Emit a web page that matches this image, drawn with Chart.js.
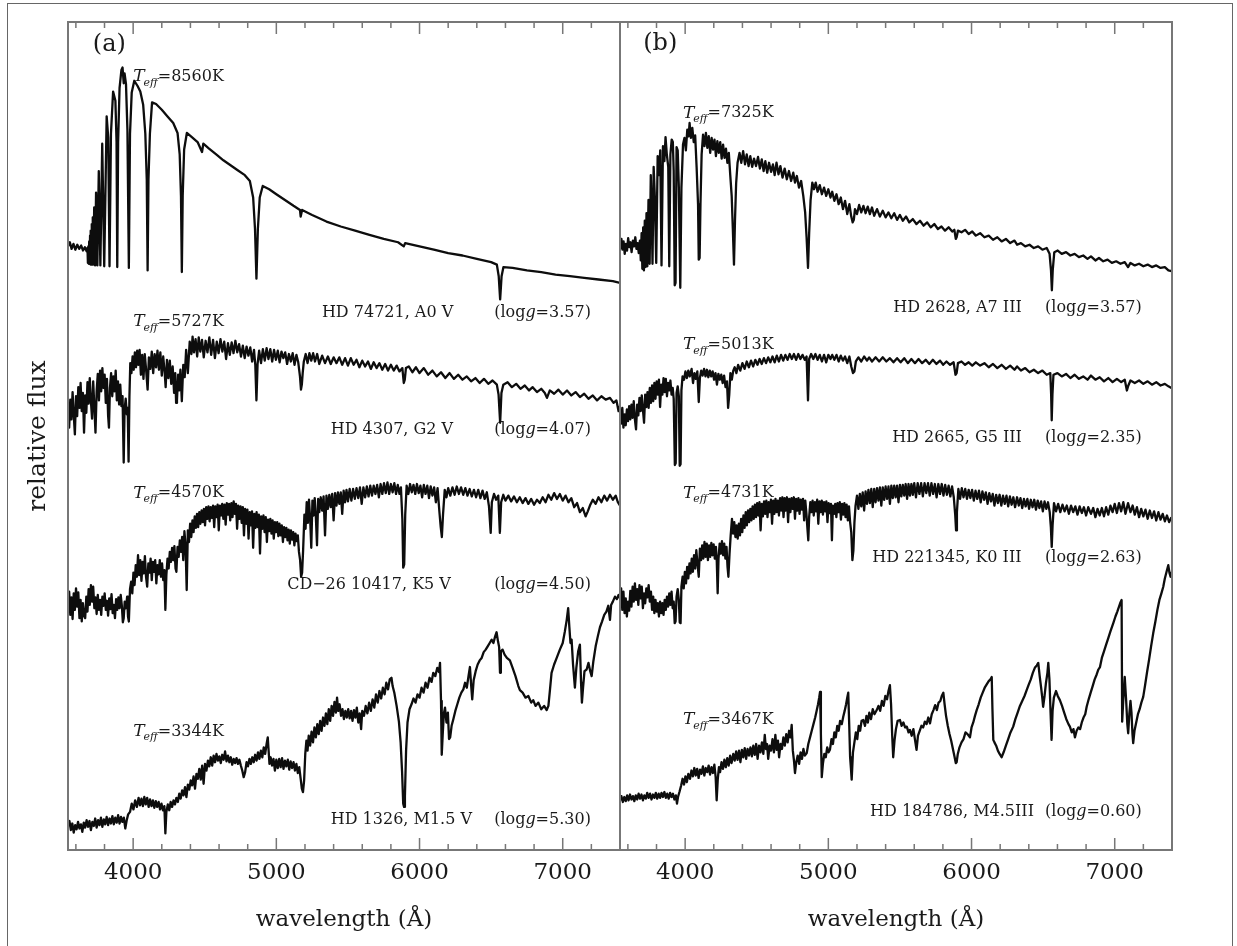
<!DOCTYPE html>
<html>
<head>
<meta charset="utf-8">
<title>Stellar spectra</title>
<script src="https://cdn.jsdelivr.net/npm/chart.js@4.4.1/dist/chart.umd.min.js"></script>
<style>
  html, body { margin: 0; padding: 0; background: #fff; }
  #page { position: relative; width: 1237px; height: 946px; overflow: hidden; }
  #frame { position: absolute; left: 7px; top: 3px; width: 1224px; height: 980px; border: 1.5px solid #666; }
  canvas { position: absolute; top: 0; }
  #panelA { left: 0; }
  #panelB { left: 610px; }
</style>
</head>
<body>
<div id="page">
  <div id="frame"></div>
  <canvas id="panelA" width="630" height="946"></canvas>
  <canvas id="panelB" width="627" height="946"></canvas>
</div>
<script>
// -------------------- Spektra (våglängd Å, relativ flux + förskjutning) --------------------
const hd74721 = [[3545,72.9],[3558,73.4],[3570,72.6],[3583,73.2],[3596,72.5],[3610,73.1],[3623,72.6],[3637,73.0],[3650,72.4],[3663,72.8],[3675,72.3],[3681,72.7],[3684,70.9],[3687,72.9],[3690,70.8],[3693,73.5],[3696,70.8],[3699,74.2],[3702,70.7],[3705,74.8],[3708,70.7],[3711,75.6],[3714,70.7],[3718,76.4],[3722,70.7],[3728,77.6],[3734,70.6],[3741,79.4],[3750,70.6],[3760,82.0],[3771,70.6],[3784,85.3],[3798,70.5],[3815,88.6],[3826,86.0],[3835,70.5],[3845,86.5],[3860,91.6],[3876,90.5],[3884,85.5],[3889,70.4],[3895,85.5],[3905,92.0],[3918,94.2],[3926,94.5],[3934,92.6],[3940,93.8],[3950,92.5],[3960,87.0],[3970,70.3],[3978,86.5],[3990,91.5],[4008,92.9],[4030,92.3],[4050,91.6],[4070,90.0],[4085,86.5],[4095,81.0],[4101,70.0],[4107,81.0],[4117,86.5],[4132,90.3],[4160,90.1],[4200,89.4],[4240,88.6],[4280,87.8],[4310,86.6],[4325,84.0],[4334,79.0],[4340,69.8],[4346,79.0],[4356,84.6],[4375,86.6],[4410,86.1],[4450,85.5],[4481,84.3],[4490,85.3],[4530,84.7],[4580,84.0],[4630,83.3],[4680,82.7],[4730,82.1],[4780,81.5],[4815,80.8],[4838,78.8],[4851,75.0],[4861,69.0],[4871,75.0],[4884,78.8],[4905,80.2],[4950,79.8],[5000,79.2],[5060,78.5],[5120,77.8],[5165,77.3],[5170,76.5],[5180,77.3],[5250,76.7],[5350,75.9],[5450,75.3],[5550,74.8],[5650,74.3],[5750,73.8],[5850,73.4],[5890,72.9],[5900,73.3],[6000,72.9],[6100,72.5],[6200,72.1],[6300,71.8],[6400,71.4],[6500,71.0],[6540,70.7],[6553,69.3],[6563,66.5],[6573,69.3],[6586,70.4],[6650,70.3],[6750,70.0],[6850,69.8],[6950,69.5],[7050,69.3],[7150,69.1],[7250,68.9],[7350,68.7],[7400,68.5]];

const hd4307 = [[3545,53.5],[3553,51.0],[3561,54.4],[3569,52.0],[3577,55.3],[3585,52.6],[3593,50.2],[3601,54.8],[3609,52.4],[3617,55.9],[3625,53.4],[3633,56.4],[3641,53.0],[3649,55.2],[3657,50.4],[3665,54.9],[3673,52.8],[3681,56.5],[3689,53.9],[3697,57.0],[3705,54.2],[3713,52.1],[3721,56.6],[3729,53.5],[3737,50.4],[3745,55.4],[3753,57.5],[3761,54.3],[3769,57.9],[3777,55.4],[3785,58.2],[3793,55.8],[3801,57.4],[3809,54.0],[3817,56.9],[3825,52.5],[3831,51.0],[3838,55.8],[3846,57.6],[3854,54.8],[3862,57.2],[3870,55.4],[3878,57.9],[3886,54.3],[3894,56.6],[3902,53.8],[3910,56.2],[3918,53.6],[3926,54.8],[3934,46.8],[3940,53.2],[3948,54.5],[3956,52.6],[3962,53.4],[3968,46.9],[3974,54.8],[3980,58.8],[3988,57.6],[3996,59.6],[4004,58.0],[4012,60.1],[4020,58.3],[4028,60.3],[4036,58.6],[4045,60.4],[4054,57.4],[4063,59.8],[4072,56.9],[4081,59.9],[4090,58.1],[4101,55.6],[4110,59.5],[4120,58.1],[4130,60.2],[4140,57.6],[4150,59.9],[4160,58.3],[4170,60.3],[4180,58.0],[4190,60.1],[4200,57.3],[4210,59.6],[4220,57.7],[4227,55.9],[4236,59.2],[4246,57.0],[4256,59.1],[4266,56.3],[4276,58.4],[4286,55.2],[4294,57.6],[4300,54.0],[4306,54.3],[4314,57.4],[4322,55.5],[4330,58.0],[4340,54.2],[4350,58.6],[4360,57.1],[4370,60.4],[4382,57.6],[4395,61.4],[4407,59.9],[4415,62.0],[4425,60.1],[4436,61.7],[4447,59.6],[4458,61.9],[4469,60.2],[4481,61.6],[4493,59.5],[4506,61.5],[4519,60.1],[4532,61.9],[4545,59.8],[4558,61.6],[4571,59.4],[4584,61.4],[4597,60.0],[4610,61.7],[4623,60.2],[4636,61.4],[4649,59.3],[4662,61.2],[4675,59.8],[4688,61.3],[4701,60.0],[4714,61.5],[4727,60.1],[4740,61.1],[4753,59.6],[4766,60.9],[4779,59.4],[4792,60.8],[4805,59.7],[4818,60.7],[4831,59.0],[4844,60.4],[4853,58.6],[4861,54.3],[4869,58.7],[4880,60.3],[4893,58.8],[4906,60.5],[4919,59.1],[4932,60.6],[4945,59.3],[4958,60.5],[4971,59.0],[4984,60.4],[4997,59.2],[5010,60.3],[5023,58.9],[5036,60.2],[5049,59.4],[5062,60.1],[5075,58.7],[5088,59.9],[5101,59.0],[5114,60.0],[5127,58.6],[5140,59.8],[5153,58.9],[5165,57.2],[5172,55.6],[5178,56.2],[5184,57.6],[5192,59.0],[5205,59.9],[5218,58.8],[5231,60.0],[5244,59.1],[5257,60.0],[5270,59.0],[5285,59.9],[5300,58.7],[5320,59.7],[5340,58.8],[5360,59.6],[5380,58.7],[5400,59.5],[5420,58.8],[5440,59.5],[5460,58.6],[5480,59.4],[5500,58.5],[5520,59.4],[5540,58.6],[5560,59.2],[5580,58.3],[5600,59.1],[5620,58.4],[5640,59.0],[5660,58.1],[5680,58.9],[5700,58.2],[5720,58.8],[5740,58.0],[5760,58.7],[5780,57.9],[5800,58.6],[5820,57.9],[5840,58.5],[5860,57.8],[5880,58.2],[5890,56.4],[5897,56.8],[5905,58.2],[5925,58.4],[5950,57.7],[5975,58.3],[6000,57.6],[6030,58.2],[6060,57.4],[6090,57.9],[6120,57.2],[6150,57.7],[6180,57.0],[6210,57.6],[6240,56.9],[6270,57.4],[6300,56.8],[6330,57.2],[6360,56.6],[6390,57.0],[6420,56.4],[6450,56.9],[6480,56.3],[6510,56.7],[6540,56.2],[6552,55.0],[6563,51.6],[6572,55.2],[6585,56.2],[6615,56.5],[6645,55.9],[6675,56.3],[6705,55.7],[6735,56.1],[6765,55.5],[6790,55.9],[6820,55.3],[6850,55.7],[6875,55.2],[6890,54.6],[6910,55.5],[6940,55.1],[6970,55.6],[7000,55.0],[7030,55.5],[7060,54.9],[7090,55.3],[7120,54.7],[7150,55.1],[7180,54.5],[7210,54.9],[7240,54.3],[7270,54.8],[7300,54.4],[7330,54.6],[7355,54.0],[7375,54.3],[7390,53.0],[7400,53.6]];

const cd26_10417 = [[3545,29.6],[3553,31.2],[3561,28.4],[3569,30.5],[3577,27.9],[3585,31.0],[3593,29.0],[3601,31.6],[3609,29.4],[3617,31.1],[3625,28.0],[3633,30.2],[3641,27.6],[3649,29.8],[3657,28.3],[3665,28.0],[3673,30.6],[3681,28.8],[3689,31.5],[3697,29.6],[3705,32.0],[3713,30.0],[3721,31.8],[3729,29.2],[3737,30.5],[3745,28.5],[3753,30.8],[3761,29.0],[3769,30.2],[3777,28.4],[3785,30.6],[3793,29.5],[3801,31.0],[3809,29.0],[3817,30.1],[3825,28.3],[3833,30.4],[3841,29.1],[3849,30.9],[3857,28.6],[3865,29.6],[3873,28.0],[3881,30.3],[3889,29.0],[3897,30.5],[3905,29.2],[3913,30.8],[3921,29.5],[3928,27.5],[3934,28.0],[3941,30.0],[3950,29.2],[3958,30.6],[3964,28.2],[3970,27.6],[3978,31.5],[3986,32.4],[3994,31.0],[4002,33.5],[4010,32.0],[4018,34.4],[4026,33.0],[4034,35.6],[4042,33.2],[4050,35.0],[4058,32.5],[4066,34.8],[4074,33.4],[4082,35.5],[4090,33.0],[4098,31.8],[4106,34.6],[4114,33.5],[4122,35.2],[4130,32.6],[4138,34.8],[4146,33.6],[4154,35.0],[4162,32.2],[4170,34.4],[4178,33.3],[4186,35.0],[4194,33.0],[4202,34.6],[4210,32.6],[4218,33.8],[4225,29.0],[4232,33.2],[4240,35.2],[4248,34.0],[4256,36.0],[4264,34.8],[4272,36.5],[4280,35.0],[4288,36.7],[4296,34.0],[4302,33.6],[4310,36.6],[4318,35.4],[4326,37.4],[4334,36.0],[4342,37.8],[4350,35.0],[4358,38.5],[4366,36.8],[4374,31.4],[4382,38.6],[4390,37.2],[4398,39.4],[4406,37.8],[4414,39.8],[4422,38.4],[4430,40.3],[4438,38.9],[4446,40.6],[4454,39.0],[4462,40.8],[4470,39.4],[4478,41.0],[4486,39.6],[4494,41.2],[4502,39.2],[4510,41.4],[4518,40.0],[4526,41.5],[4534,39.7],[4542,41.4],[4550,40.1],[4558,41.6],[4566,39.0],[4574,41.5],[4582,40.2],[4590,41.7],[4598,38.6],[4606,41.6],[4614,40.4],[4622,41.8],[4630,40.0],[4638,41.7],[4646,39.3],[4654,41.9],[4662,40.5],[4670,41.8],[4678,39.8],[4686,41.9],[4694,40.2],[4702,42.1],[4710,40.6],[4718,41.8],[4726,38.8],[4734,41.6],[4742,40.0],[4750,41.5],[4758,39.5],[4766,41.4],[4774,38.0],[4782,41.2],[4790,39.4],[4798,41.1],[4806,37.6],[4814,40.8],[4822,39.2],[4830,40.9],[4838,36.5],[4846,40.6],[4854,38.9],[4862,40.8],[4870,39.0],[4878,40.5],[4886,35.8],[4894,40.3],[4902,38.8],[4910,40.4],[4918,38.4],[4926,40.2],[4934,37.2],[4942,39.9],[4950,38.5],[4958,40.0],[4966,38.2],[4974,39.8],[4982,37.6],[4990,39.6],[4998,38.4],[5006,39.6],[5014,37.9],[5022,39.4],[5030,38.0],[5038,39.2],[5046,37.2],[5054,39.0],[5062,37.8],[5070,38.9],[5078,37.4],[5086,38.7],[5094,37.0],[5102,38.6],[5110,37.5],[5118,38.4],[5126,36.8],[5134,38.2],[5142,37.3],[5150,38.0],[5158,36.0],[5166,35.0],[5173,33.0],[5180,33.5],[5187,36.2],[5196,40.5],[5204,38.8],[5212,42.0],[5220,39.5],[5228,42.3],[5236,40.0],[5244,36.5],[5252,42.2],[5260,40.4],[5268,42.5],[5276,40.2],[5284,36.8],[5292,42.4],[5300,40.8],[5310,42.6],[5320,41.0],[5330,42.7],[5340,38.0],[5350,42.8],[5360,41.2],[5370,42.9],[5380,41.4],[5390,43.0],[5400,39.8],[5410,43.1],[5420,41.6],[5430,43.2],[5440,41.8],[5450,43.2],[5460,40.6],[5470,43.4],[5480,42.0],[5490,43.5],[5500,42.1],[5512,43.6],[5524,42.2],[5536,43.6],[5548,42.4],[5560,43.7],[5572,42.5],[5584,43.8],[5596,41.8],[5608,43.8],[5620,42.6],[5632,43.9],[5644,42.7],[5656,44.0],[5668,42.8],[5680,44.0],[5692,43.0],[5704,44.1],[5716,42.6],[5728,44.2],[5740,43.0],[5752,44.3],[5764,43.1],[5776,44.4],[5788,43.0],[5800,44.2],[5812,43.2],[5824,44.3],[5836,43.0],[5848,44.1],[5860,43.0],[5870,43.8],[5880,40.0],[5886,34.1],[5893,34.5],[5900,40.5],[5910,44.0],[5922,43.0],[5934,44.2],[5946,43.2],[5958,44.1],[5970,43.0],[5982,44.2],[5994,43.1],[6006,44.0],[6018,42.6],[6030,44.1],[6042,43.0],[6054,44.0],[6066,42.5],[6078,43.9],[6090,42.8],[6102,43.8],[6114,42.0],[6126,43.7],[6138,41.0],[6148,39.0],[6156,37.8],[6164,40.5],[6176,43.5],[6188,42.6],[6200,43.7],[6215,42.8],[6230,43.8],[6245,42.9],[6260,43.9],[6275,43.0],[6290,43.8],[6305,42.9],[6320,43.7],[6335,42.8],[6350,43.6],[6365,42.7],[6380,43.5],[6395,42.6],[6410,43.5],[6425,42.5],[6440,43.4],[6455,42.4],[6470,43.2],[6485,41.5],[6497,38.3],[6505,42.0],[6520,43.0],[6535,42.3],[6550,42.8],[6561,38.3],[6570,42.0],[6585,42.9],[6600,42.2],[6620,42.8],[6640,42.1],[6660,42.7],[6680,42.0],[6700,42.6],[6720,41.9],[6740,42.5],[6760,41.8],[6780,42.4],[6800,41.7],[6820,42.3],[6840,41.9],[6860,42.6],[6880,42.0],[6900,42.9],[6920,42.3],[6940,43.1],[6960,42.4],[6980,43.0],[7000,42.2],[7020,42.8],[7040,42.0],[7060,42.5],[7080,41.4],[7100,41.9],[7120,40.8],[7140,41.3],[7160,40.3],[7175,40.9],[7190,41.6],[7210,42.3],[7230,41.8],[7250,42.6],[7270,42.0],[7290,42.8],[7310,42.2],[7330,42.9],[7350,42.3],[7370,42.8],[7385,42.0],[7400,41.6]];

const hd1326 = [[3545,2.9],[3555,3.5],[3565,2.4],[3575,3.2],[3585,2.1],[3595,3.0],[3605,2.5],[3615,3.4],[3625,2.6],[3635,3.1],[3645,2.2],[3655,3.3],[3665,2.7],[3675,3.6],[3685,2.8],[3695,3.5],[3705,2.4],[3715,3.4],[3725,2.9],[3735,3.8],[3745,2.7],[3755,3.6],[3765,3.0],[3775,3.9],[3785,2.8],[3795,3.7],[3805,3.1],[3815,4.0],[3825,3.0],[3835,3.8],[3845,3.2],[3855,4.1],[3865,3.1],[3875,3.9],[3885,3.3],[3895,4.2],[3905,3.2],[3915,4.0],[3925,3.4],[3935,3.9],[3945,2.6],[3955,3.6],[3965,4.3],[3978,4.6],[3990,5.6],[4002,4.9],[4014,6.0],[4026,5.2],[4038,6.3],[4048,5.4],[4058,6.2],[4068,5.3],[4078,6.4],[4088,5.5],[4098,6.3],[4108,5.2],[4118,6.1],[4128,5.3],[4138,6.0],[4148,5.1],[4158,5.9],[4168,5.2],[4178,5.8],[4188,4.9],[4198,5.6],[4208,4.8],[4218,5.3],[4225,2.0],[4232,4.6],[4242,5.5],[4252,4.8],[4262,5.8],[4272,5.2],[4282,6.0],[4292,5.5],[4302,6.3],[4312,5.8],[4322,6.8],[4332,6.2],[4342,7.2],[4352,6.6],[4362,7.6],[4372,6.4],[4382,7.9],[4392,7.3],[4402,8.4],[4412,7.8],[4422,8.9],[4432,7.4],[4442,9.2],[4452,8.6],[4462,9.8],[4472,8.5],[4482,10.2],[4492,8.0],[4502,10.4],[4512,9.6],[4522,10.8],[4532,10.1],[4542,11.2],[4552,10.2],[4562,11.4],[4572,10.6],[4582,11.6],[4592,10.8],[4602,11.3],[4612,10.5],[4622,11.5],[4632,10.9],[4642,11.9],[4652,10.7],[4662,11.4],[4672,10.6],[4682,11.2],[4692,10.3],[4702,11.0],[4712,10.5],[4722,11.1],[4732,10.4],[4742,10.9],[4752,10.2],[4762,9.6],[4772,8.8],[4782,9.4],[4792,10.6],[4802,10.1],[4812,11.0],[4822,10.4],[4832,11.2],[4842,10.6],[4852,11.5],[4862,10.8],[4872,11.8],[4882,11.0],[4892,12.0],[4902,11.2],[4912,12.4],[4922,11.6],[4932,12.8],[4940,13.6],[4946,12.0],[4952,10.4],[4960,11.2],[4970,10.2],[4980,11.0],[4990,9.6],[5000,10.9],[5010,9.9],[5020,11.0],[5030,10.0],[5040,11.1],[5050,9.8],[5060,10.8],[5070,10.1],[5080,10.9],[5090,9.7],[5100,10.7],[5110,9.9],[5120,10.6],[5130,9.6],[5140,10.4],[5150,9.3],[5160,10.0],[5170,8.6],[5178,7.4],[5186,7.0],[5194,8.4],[5202,11.6],[5210,13.2],[5218,12.0],[5226,13.8],[5236,12.6],[5246,14.3],[5256,13.0],[5266,14.8],[5276,13.6],[5286,15.2],[5296,14.0],[5306,15.6],[5316,14.4],[5326,16.0],[5336,15.0],[5346,16.5],[5356,15.2],[5366,17.0],[5376,15.6],[5386,17.4],[5396,16.2],[5406,17.9],[5416,16.6],[5424,18.4],[5432,16.8],[5442,17.6],[5452,16.2],[5462,17.0],[5472,15.8],[5482,16.8],[5492,16.0],[5502,17.0],[5512,15.9],[5522,16.8],[5532,15.6],[5542,16.9],[5552,16.0],[5562,17.2],[5572,15.4],[5582,16.5],[5592,14.6],[5600,16.8],[5612,16.2],[5624,17.4],[5636,16.5],[5648,17.8],[5660,16.8],[5672,18.2],[5684,17.2],[5696,18.8],[5708,17.8],[5720,19.2],[5732,18.3],[5744,19.6],[5756,18.8],[5768,20.2],[5780,19.4],[5792,20.6],[5804,20.8],[5812,19.8],[5824,19.0],[5840,17.4],[5856,15.5],[5868,13.0],[5878,9.5],[5886,5.6],[5892,5.2],[5898,6.5],[5906,12.0],[5916,15.4],[5930,17.0],[5944,17.6],[5958,18.3],[5972,17.8],[5986,18.8],[6000,18.4],[6014,19.6],[6028,19.0],[6042,20.2],[6056,19.6],[6070,20.8],[6084,20.3],[6096,21.4],[6110,21.0],[6124,22.0],[6136,21.5],[6143,22.6],[6150,18.0],[6155,11.5],[6162,14.0],[6170,16.5],[6178,17.2],[6188,15.4],[6198,16.6],[6206,13.4],[6214,13.6],[6224,15.0],[6236,15.8],[6250,16.8],[6264,17.6],[6278,18.4],[6292,19.0],[6306,19.4],[6318,20.2],[6330,19.6],[6342,21.0],[6352,22.1],[6360,20.0],[6368,18.2],[6378,20.5],[6392,21.6],[6406,22.4],[6420,22.9],[6434,23.2],[6448,23.9],[6462,24.2],[6476,24.6],[6490,25.0],[6504,25.4],[6516,25.0],[6528,25.8],[6538,26.3],[6548,25.2],[6556,24.5],[6562,21.4],[6568,24.0],[6580,24.2],[6594,23.6],[6610,23.2],[6631,22.9],[6650,22.0],[6670,21.0],[6690,19.8],[6701,19.3],[6720,19.0],[6740,18.4],[6760,18.6],[6780,17.8],[6794,18.1],[6810,17.4],[6830,17.8],[6850,17.0],[6870,17.4],[6888,16.9],[6900,17.4],[6910,19.2],[6922,21.4],[6940,22.4],[6960,23.3],[6980,24.2],[7000,25.0],[7015,26.4],[7028,27.8],[7038,29.2],[7046,27.0],[7054,25.0],[7062,25.4],[7072,22.4],[7085,19.6],[7095,22.0],[7108,24.0],[7120,24.8],[7128,20.2],[7134,17.8],[7142,19.6],[7152,21.6],[7167,21.8],[7180,22.6],[7192,21.6],[7202,21.0],[7214,22.8],[7230,24.6],[7245,25.8],[7260,26.9],[7275,27.6],[7290,28.4],[7305,28.8],[7318,29.5],[7330,27.8],[7338,29.6],[7350,30.0],[7365,30.6],[7378,30.3],[7390,30.8],[7400,30.4]];

const hd2628 = [[3545,72.6],[3555,73.8],[3562,72.5],[3570,73.5],[3578,72.0],[3586,73.2],[3594,72.4],[3602,73.9],[3610,72.8],[3618,73.4],[3626,72.2],[3635,73.6],[3643,72.9],[3652,74.0],[3660,72.6],[3668,73.3],[3676,72.1],[3684,73.6],[3690,71.2],[3696,74.5],[3701,70.2],[3707,75.2],[3712,70.0],[3718,76.0],[3724,70.4],[3730,76.9],[3736,70.5],[3744,78.5],[3752,70.8],[3760,81.5],[3766,77.0],[3772,70.8],[3780,82.5],[3788,79.0],[3798,70.9],[3808,83.8],[3818,81.5],[3826,84.5],[3835,70.6],[3845,85.0],[3855,83.2],[3863,86.1],[3872,84.0],[3882,82.5],[3889,70.5],[3897,84.0],[3906,85.8],[3914,85.5],[3920,82.0],[3927,68.2],[3933,68.5],[3940,84.9],[3948,84.5],[3956,80.0],[3966,67.9],[3974,80.0],[3985,85.2],[3995,86.0],[4005,84.5],[4015,87.0],[4024,86.2],[4031,87.8],[4040,86.0],[4050,87.2],[4060,85.5],[4070,86.3],[4080,82.5],[4090,78.0],[4095,71.3],[4101,71.5],[4107,78.0],[4115,84.0],[4125,86.4],[4135,85.0],[4145,86.6],[4155,84.8],[4165,86.2],[4175,84.2],[4185,86.0],[4195,84.6],[4205,85.8],[4215,83.8],[4225,85.6],[4235,84.2],[4245,85.5],[4255,83.5],[4265,85.2],[4275,83.6],[4285,84.7],[4295,83.0],[4305,84.2],[4315,81.5],[4325,79.0],[4333,75.0],[4341,70.7],[4348,76.0],[4356,80.5],[4366,83.0],[4380,84.2],[4392,83.0],[4405,84.4],[4418,82.8],[4430,84.0],[4443,82.6],[4455,83.8],[4468,82.5],[4481,83.5],[4495,82.6],[4509,83.7],[4522,82.3],[4535,83.4],[4548,82.0],[4560,83.2],[4573,81.8],[4586,83.0],[4600,81.9],[4613,82.8],[4625,81.5],[4638,83.0],[4652,81.6],[4665,82.6],[4680,81.2],[4695,82.3],[4710,81.0],[4725,82.0],[4740,80.8],[4755,81.8],[4767,80.6],[4780,81.4],[4795,80.0],[4810,80.8],[4825,79.0],[4838,77.0],[4848,74.0],[4858,70.3],[4866,74.5],[4876,78.5],[4888,80.6],[4900,79.8],[4912,80.6],[4925,79.5],[4940,80.3],[4955,79.2],[4970,80.0],[4985,79.0],[5000,79.8],[5015,78.8],[5027,79.5],[5042,78.4],[5057,79.2],[5072,78.0],[5087,78.8],[5102,77.4],[5117,78.4],[5132,76.8],[5147,78.0],[5160,76.5],[5170,75.8],[5178,76.1],[5186,77.4],[5200,76.8],[5215,77.9],[5230,77.0],[5245,77.8],[5260,76.9],[5275,77.7],[5290,76.8],[5305,77.6],[5320,76.6],[5340,77.4],[5360,76.5],[5380,77.2],[5400,76.4],[5420,77.0],[5440,76.3],[5460,76.9],[5480,76.1],[5500,76.7],[5520,76.0],[5543,76.5],[5565,75.8],[5590,76.2],[5615,75.6],[5640,76.0],[5665,75.4],[5690,75.8],[5715,75.2],[5740,75.6],[5765,75.0],[5790,75.3],[5815,74.8],[5840,75.2],[5865,74.7],[5880,74.9],[5890,73.8],[5896,74.0],[5905,74.8],[5930,74.6],[5955,74.9],[5980,74.4],[6005,74.7],[6030,74.2],[6060,74.5],[6090,74.0],[6120,74.2],[6150,73.7],[6180,74.0],[6210,73.5],[6240,73.8],[6270,73.3],[6300,73.6],[6318,73.1],[6345,73.3],[6375,72.9],[6405,73.1],[6435,72.7],[6465,72.9],[6495,72.5],[6525,72.7],[6545,72.0],[6555,70.0],[6561,67.6],[6567,70.0],[6578,72.2],[6602,72.4],[6630,72.0],[6660,72.2],[6690,71.8],[6720,72.0],[6750,71.6],[6780,71.8],[6810,71.4],[6834,71.7],[6865,71.2],[6890,71.5],[6920,71.1],[6950,71.3],[6980,70.9],[7010,71.1],[7040,70.8],[7070,71.0],[7093,70.4],[7110,70.9],[7140,70.6],[7170,70.8],[7200,70.5],[7230,70.7],[7260,70.4],[7290,70.6],[7320,70.3],[7350,70.4],[7375,70.0],[7396,69.9]];

const hd2665 = [[3545,53.0],[3553,51.5],[3561,53.4],[3569,51.0],[3577,52.6],[3585,51.3],[3593,53.2],[3601,51.8],[3609,53.6],[3617,52.0],[3625,53.8],[3633,52.2],[3641,54.2],[3649,52.0],[3657,50.8],[3665,53.8],[3673,52.5],[3681,54.6],[3689,53.0],[3697,54.9],[3705,53.2],[3713,51.6],[3721,55.0],[3729,53.5],[3737,55.3],[3745,53.4],[3753,55.8],[3761,54.0],[3769,56.1],[3777,54.2],[3785,56.4],[3793,54.5],[3801,56.6],[3809,55.0],[3817,56.8],[3825,53.5],[3833,56.2],[3841,55.0],[3849,57.0],[3857,55.3],[3865,56.9],[3873,54.8],[3881,56.4],[3889,55.5],[3897,56.7],[3905,55.0],[3913,55.8],[3920,54.5],[3928,46.5],[3934,46.7],[3940,55.2],[3948,56.0],[3956,54.8],[3962,46.4],[3968,46.6],[3974,55.5],[3982,57.2],[3992,56.8],[4002,57.8],[4012,57.0],[4022,57.9],[4032,57.2],[4045,58.1],[4055,56.4],[4065,57.6],[4075,56.9],[4085,57.8],[4095,54.1],[4103,57.0],[4112,57.9],[4122,57.3],[4132,58.1],[4142,57.2],[4152,58.0],[4162,57.1],[4172,57.9],[4182,57.2],[4192,57.8],[4202,56.8],[4212,57.6],[4222,56.2],[4232,57.5],[4242,56.8],[4252,57.4],[4262,56.4],[4272,57.3],[4282,55.9],[4292,56.6],[4300,53.4],[4308,55.0],[4316,57.6],[4326,56.8],[4336,57.9],[4346,58.3],[4358,57.6],[4370,58.6],[4385,57.9],[4400,58.8],[4415,58.1],[4430,59.0],[4445,58.3],[4460,59.1],[4475,58.4],[4490,59.2],[4505,58.6],[4520,59.3],[4535,58.7],[4550,59.4],[4565,58.8],[4580,59.5],[4595,58.9],[4610,59.6],[4625,58.9],[4640,59.7],[4655,59.0],[4670,59.8],[4685,59.1],[4700,59.8],[4715,59.2],[4730,59.9],[4745,59.3],[4760,59.9],[4775,59.2],[4790,59.9],[4805,59.3],[4820,59.8],[4835,59.2],[4848,59.6],[4858,54.3],[4866,59.3],[4880,59.9],[4895,59.3],[4910,59.9],[4925,59.2],[4940,59.8],[4955,59.0],[4970,59.8],[4985,58.9],[5000,59.8],[5015,59.3],[5027,59.8],[5042,59.2],[5057,59.8],[5072,59.0],[5087,59.7],[5102,59.1],[5117,59.6],[5132,58.8],[5147,59.6],[5160,58.4],[5172,57.6],[5182,57.8],[5192,59.0],[5210,59.5],[5230,59.0],[5250,59.6],[5270,59.1],[5285,59.5],[5305,59.0],[5330,59.5],[5355,59.0],[5380,59.5],[5405,59.0],[5430,59.4],[5455,58.9],[5480,59.4],[5505,58.9],[5530,59.4],[5555,58.8],[5580,59.3],[5605,58.8],[5630,59.3],[5655,58.8],[5680,59.2],[5705,58.7],[5730,59.2],[5755,58.7],[5780,59.1],[5802,58.6],[5825,59.0],[5850,58.6],[5875,58.9],[5888,57.4],[5896,57.6],[5905,58.8],[5930,59.0],[5955,58.6],[5980,58.9],[6005,58.5],[6030,58.9],[6060,58.5],[6090,58.8],[6120,58.3],[6150,58.7],[6180,58.2],[6210,58.6],[6240,58.1],[6270,58.5],[6300,58.0],[6318,58.4],[6345,57.9],[6375,58.2],[6405,57.7],[6435,58.0],[6465,57.6],[6495,57.9],[6525,57.4],[6550,57.6],[6556,55.0],[6560,51.9],[6565,55.0],[6572,57.4],[6600,57.6],[6630,57.2],[6660,57.5],[6690,57.0],[6720,57.4],[6750,56.9],[6780,57.2],[6810,56.8],[6834,57.3],[6865,56.8],[6895,57.1],[6925,56.6],[6955,57.0],[6985,56.5],[7015,56.9],[7045,56.5],[7070,56.8],[7085,55.5],[7093,56.0],[7110,56.7],[7140,56.4],[7170,56.7],[7200,56.3],[7230,56.6],[7260,56.2],[7290,56.5],[7320,56.1],[7350,56.3],[7375,56.0],[7396,55.8]];

const hd221345 = [[3545,30.0],[3553,31.6],[3561,29.0],[3569,31.2],[3577,28.6],[3585,30.4],[3593,28.2],[3601,30.0],[3609,28.9],[3617,31.3],[3625,29.4],[3633,31.8],[3641,30.0],[3649,32.2],[3657,30.2],[3665,31.5],[3673,29.6],[3681,32.0],[3689,30.4],[3697,31.8],[3705,29.2],[3713,31.0],[3721,29.8],[3729,31.6],[3737,30.5],[3745,32.0],[3753,30.0],[3761,31.2],[3769,29.0],[3777,30.6],[3785,28.6],[3793,30.2],[3801,28.8],[3809,29.8],[3817,28.2],[3825,30.0],[3833,28.6],[3841,29.8],[3849,28.4],[3857,30.2],[3865,29.0],[3873,30.6],[3881,29.4],[3889,31.0],[3897,29.6],[3905,31.2],[3913,29.2],[3920,30.0],[3927,27.4],[3933,27.6],[3940,30.6],[3948,31.5],[3956,30.2],[3962,27.5],[3968,27.4],[3974,31.8],[3982,33.0],[3990,31.6],[3998,33.6],[4006,32.2],[4014,34.2],[4022,32.8],[4030,34.6],[4038,33.4],[4046,35.2],[4054,33.6],[4062,35.6],[4070,34.0],[4078,36.2],[4086,34.6],[4095,33.0],[4103,36.4],[4111,35.0],[4119,36.8],[4127,35.2],[4135,37.2],[4143,35.4],[4151,37.0],[4159,35.0],[4167,36.8],[4175,35.4],[4183,37.1],[4191,35.6],[4199,36.9],[4207,35.2],[4215,36.6],[4221,34.8],[4227,31.0],[4233,35.2],[4241,37.0],[4249,35.8],[4257,37.3],[4265,35.6],[4273,37.0],[4281,35.2],[4289,36.6],[4296,34.2],[4302,33.0],[4310,35.8],[4318,38.0],[4327,40.0],[4335,38.2],[4343,39.6],[4351,37.8],[4359,39.2],[4367,37.6],[4375,39.4],[4383,38.0],[4391,40.0],[4399,38.4],[4407,40.4],[4415,38.9],[4423,40.8],[4431,39.2],[4439,41.0],[4447,39.6],[4455,41.2],[4463,39.8],[4471,41.5],[4479,40.0],[4487,41.7],[4495,40.2],[4503,41.9],[4511,40.4],[4519,42.0],[4527,38.6],[4535,41.8],[4543,40.3],[4551,42.1],[4559,40.6],[4567,42.2],[4575,40.2],[4583,42.0],[4591,40.8],[4599,42.3],[4607,39.4],[4615,42.2],[4623,40.6],[4631,42.4],[4639,40.8],[4647,42.2],[4655,40.4],[4663,42.5],[4671,41.0],[4679,42.6],[4687,40.2],[4695,42.5],[4703,41.0],[4711,42.6],[4719,39.6],[4727,42.4],[4735,40.8],[4743,42.5],[4751,41.2],[4759,42.6],[4767,40.0],[4775,42.4],[4783,41.0],[4791,42.5],[4799,40.6],[4807,42.3],[4815,41.1],[4823,42.4],[4831,39.8],[4839,42.2],[4847,40.6],[4854,38.8],[4860,37.4],[4866,40.2],[4874,42.0],[4882,40.8],[4890,42.2],[4898,40.4],[4906,42.0],[4914,40.9],[4922,42.3],[4930,39.4],[4938,42.1],[4946,40.8],[4954,42.2],[4962,40.5],[4970,42.0],[4978,40.9],[4986,42.1],[4994,39.6],[5002,41.9],[5010,40.7],[5018,41.8],[5025,37.4],[5032,41.6],[5040,40.6],[5048,41.8],[5056,40.2],[5064,41.9],[5072,40.8],[5080,42.0],[5088,39.9],[5096,41.8],[5104,40.5],[5112,41.9],[5120,40.2],[5128,41.7],[5136,39.8],[5144,41.5],[5152,39.6],[5160,38.4],[5168,35.0],[5175,36.2],[5182,39.5],[5190,41.6],[5200,42.8],[5210,41.2],[5220,43.0],[5230,41.5],[5240,43.2],[5250,41.0],[5260,43.3],[5270,41.8],[5280,43.5],[5290,41.9],[5300,43.6],[5310,41.4],[5320,43.6],[5330,42.0],[5340,43.7],[5350,42.2],[5360,43.8],[5370,41.6],[5380,43.8],[5390,42.3],[5400,43.9],[5410,42.4],[5420,43.9],[5430,41.8],[5440,44.0],[5450,42.5],[5460,44.0],[5470,42.6],[5480,44.0],[5490,42.0],[5500,44.1],[5510,42.7],[5520,44.1],[5530,42.8],[5540,44.2],[5550,42.4],[5560,44.2],[5570,42.8],[5580,44.2],[5590,42.9],[5600,44.3],[5612,42.6],[5624,44.3],[5636,43.0],[5648,44.3],[5660,42.7],[5672,44.3],[5684,43.1],[5696,44.3],[5708,42.8],[5720,44.3],[5732,43.0],[5744,44.2],[5756,42.6],[5768,44.2],[5780,43.0],[5792,44.2],[5804,42.8],[5816,44.1],[5828,42.9],[5840,44.0],[5852,42.7],[5864,43.9],[5876,42.6],[5886,40.5],[5892,38.6],[5898,40.8],[5908,43.6],[5920,42.4],[5932,43.7],[5944,42.6],[5956,43.6],[5968,42.4],[5980,43.5],[5992,42.5],[6004,43.5],[6016,42.2],[6028,43.4],[6040,42.4],[6052,43.4],[6064,42.0],[6076,43.3],[6088,42.3],[6100,43.2],[6112,41.8],[6124,43.1],[6136,42.1],[6148,43.0],[6160,41.6],[6172,42.9],[6184,41.9],[6196,42.9],[6208,41.6],[6220,42.8],[6232,41.8],[6244,42.8],[6256,41.5],[6268,42.7],[6280,41.7],[6292,42.6],[6304,41.4],[6318,42.6],[6330,41.6],[6342,42.5],[6354,41.3],[6366,42.4],[6378,41.5],[6390,42.4],[6402,41.2],[6414,42.3],[6426,41.4],[6438,42.3],[6450,41.1],[6462,42.2],[6474,41.3],[6486,42.1],[6498,40.9],[6510,42.1],[6522,41.2],[6534,42.0],[6546,40.8],[6554,39.0],[6560,36.6],[6566,39.2],[6576,41.9],[6590,40.9],[6605,41.8],[6620,40.8],[6635,41.7],[6650,40.9],[6665,41.6],[6680,40.6],[6695,41.6],[6710,40.8],[6725,41.5],[6740,40.5],[6755,41.5],[6770,40.7],[6785,41.4],[6800,40.4],[6815,41.4],[6834,40.6],[6850,41.3],[6865,40.2],[6880,41.2],[6895,40.4],[6910,41.3],[6925,40.3],[6940,41.4],[6955,40.5],[6970,41.6],[6985,40.8],[7000,41.8],[7015,40.7],[7030,41.9],[7045,40.9],[7060,42.0],[7075,40.6],[7093,41.9],[7110,40.8],[7125,41.6],[7140,40.5],[7155,41.4],[7170,40.2],[7185,41.2],[7200,40.3],[7215,41.1],[7230,40.0],[7245,41.0],[7260,40.1],[7275,40.9],[7290,39.8],[7305,40.8],[7320,39.9],[7335,40.6],[7350,39.7],[7365,40.4],[7380,39.6],[7396,40.2]];

const hd184786 = [[3545,6.0],[3555,6.5],[3565,5.8],[3575,6.4],[3585,5.9],[3595,6.6],[3605,6.0],[3615,6.7],[3625,6.1],[3635,6.5],[3645,5.9],[3655,6.6],[3665,6.1],[3675,6.8],[3685,6.2],[3695,6.7],[3705,6.0],[3715,6.6],[3725,6.2],[3735,6.9],[3745,6.3],[3755,6.8],[3765,6.1],[3775,6.7],[3785,6.3],[3795,6.9],[3805,6.2],[3815,6.8],[3825,6.3],[3835,6.9],[3845,6.4],[3855,7.0],[3865,6.3],[3875,6.8],[3885,6.2],[3895,6.9],[3905,6.4],[3915,6.8],[3925,6.1],[3935,6.6],[3943,5.6],[3950,6.4],[3960,7.0],[3972,7.8],[3982,8.6],[3992,7.9],[4002,8.9],[4012,8.2],[4022,9.2],[4034,8.6],[4044,9.6],[4054,8.9],[4064,9.9],[4074,9.0],[4084,9.8],[4094,8.7],[4104,9.7],[4114,9.2],[4124,10.1],[4134,9.0],[4144,9.9],[4154,9.4],[4164,10.2],[4174,9.1],[4184,10.0],[4194,9.3],[4204,10.3],[4213,8.8],[4220,6.0],[4228,8.6],[4236,10.0],[4244,9.4],[4254,10.6],[4264,9.8],[4274,10.9],[4284,10.0],[4294,11.1],[4304,10.2],[4314,11.4],[4324,10.5],[4336,11.6],[4346,10.8],[4356,11.9],[4366,10.9],[4376,12.0],[4386,10.6],[4396,12.1],[4406,11.2],[4416,12.3],[4426,11.0],[4436,12.2],[4446,11.4],[4456,12.4],[4466,11.3],[4476,12.6],[4486,11.5],[4496,12.8],[4506,11.0],[4516,12.6],[4526,11.8],[4536,13.0],[4546,11.6],[4556,13.9],[4564,12.2],[4572,12.8],[4580,11.0],[4590,12.6],[4600,12.0],[4610,13.4],[4620,11.8],[4630,13.9],[4639,12.1],[4648,13.2],[4656,11.2],[4666,12.8],[4676,12.2],[4686,13.6],[4696,12.6],[4706,14.0],[4716,13.0],[4726,14.4],[4736,13.6],[4744,15.1],[4752,12.0],[4760,10.8],[4767,9.3],[4776,10.6],[4786,11.4],[4796,10.4],[4806,11.8],[4816,11.0],[4826,12.2],[4836,11.4],[4849,11.7],[4860,12.8],[4872,13.6],[4884,14.4],[4896,15.2],[4908,16.0],[4918,16.8],[4928,17.6],[4936,18.4],[4942,19.1],[4948,14.0],[4954,8.8],[4962,10.4],[4972,11.6],[4982,11.2],[4992,12.4],[5002,11.8],[5011,12.1],[5022,13.4],[5032,12.8],[5042,14.2],[5052,13.6],[5062,15.0],[5072,14.4],[5082,15.6],[5094,15.2],[5104,16.1],[5114,16.8],[5124,17.6],[5132,18.4],[5139,19.0],[5146,15.0],[5152,11.2],[5158,9.8],[5163,8.5],[5172,11.8],[5182,13.0],[5192,14.2],[5202,13.4],[5212,15.0],[5222,14.4],[5232,15.6],[5244,15.7],[5256,15.0],[5266,16.2],[5276,15.4],[5286,16.6],[5298,15.8],[5310,17.0],[5322,16.4],[5338,16.9],[5350,17.4],[5362,16.8],[5374,18.0],[5386,17.4],[5398,18.6],[5410,18.2],[5420,19.2],[5430,19.9],[5438,17.6],[5446,13.8],[5453,11.2],[5462,13.2],[5472,14.6],[5484,15.6],[5500,15.7],[5512,15.0],[5524,15.4],[5536,14.8],[5548,14.9],[5560,14.2],[5570,14.5],[5582,13.8],[5594,14.6],[5606,13.2],[5616,12.1],[5626,13.8],[5638,14.4],[5650,15.0],[5662,14.8],[5674,15.5],[5686,15.2],[5698,16.0],[5710,15.3],[5722,16.4],[5734,16.9],[5746,17.5],[5758,16.9],[5770,17.8],[5782,18.0],[5792,18.6],[5803,19.0],[5812,17.6],[5822,16.2],[5834,15.0],[5846,14.0],[5858,13.2],[5870,12.2],[5882,11.2],[5890,10.5],[5896,10.6],[5904,11.6],[5916,12.4],[5930,13.0],[5944,13.4],[5958,14.2],[5972,14.0],[5989,13.6],[6000,14.8],[6012,15.4],[6024,16.2],[6036,16.9],[6050,17.6],[6064,18.4],[6078,19.0],[6092,19.6],[6106,20.0],[6120,20.4],[6132,20.6],[6141,20.9],[6146,17.0],[6152,13.3],[6160,13.0],[6172,12.6],[6184,12.0],[6196,11.6],[6210,11.2],[6224,11.8],[6240,12.6],[6256,13.4],[6272,14.2],[6291,14.9],[6306,15.8],[6322,16.6],[6338,17.4],[6354,18.0],[6370,18.6],[6385,19.3],[6400,20.0],[6414,20.6],[6428,21.4],[6442,22.0],[6456,22.3],[6466,22.6],[6476,21.0],[6486,19.6],[6494,18.4],[6500,17.3],[6510,18.6],[6520,20.2],[6530,21.4],[6536,22.6],[6544,20.6],[6552,16.6],[6559,13.3],[6566,16.8],[6575,18.4],[6590,19.2],[6602,18.6],[6617,18.1],[6632,17.4],[6647,16.6],[6662,15.8],[6677,15.2],[6687,14.9],[6700,14.2],[6712,14.6],[6722,13.6],[6734,14.4],[6746,14.8],[6758,14.6],[6770,15.4],[6782,16.0],[6794,16.4],[6804,17.3],[6818,18.2],[6832,19.0],[6846,19.8],[6860,20.6],[6874,21.2],[6886,21.8],[6897,22.1],[6910,23.2],[6925,24.0],[6940,24.8],[6955,25.6],[6970,26.4],[6990,27.4],[7005,28.2],[7018,28.8],[7030,29.4],[7040,29.9],[7048,30.2],[7052,15.5],[7060,18.2],[7070,20.9],[7080,18.0],[7088,15.2],[7094,14.1],[7102,16.4],[7110,18.0],[7117,16.6],[7124,14.0],[7129,12.9],[7138,14.4],[7150,15.4],[7162,16.4],[7174,17.0],[7186,17.8],[7199,18.5],[7212,19.9],[7226,21.5],[7240,23.0],[7254,24.6],[7269,26.2],[7284,27.6],[7298,29.0],[7312,30.2],[7326,31.0],[7339,31.8],[7350,32.8],[7362,33.6],[7374,34.4],[7382,33.5],[7390,33.0],[7396,33.6]];

// -------------------- Stjärnor per panel --------------------
const starsA = ["HD 74721, A0 V", "HD 4307, G2 V", "CD\u221226 10417, K5 V", "HD 1326, M1.5 V"];
const teffA = [8560, 5727, 4570, 3344];
const loggA = ["3.57", "4.07", "4.50", "5.30"];
const spectraA = [hd74721, hd4307, cd26_10417, hd1326];

const starsB = ["HD 2628, A7 III", "HD 2665, G5 III", "HD 221345, K0 III", "HD 184786, M4.5III"];
const teffB = [7325, 5013, 4731, 3467];
const loggB = ["3.57", "2.35", "2.63", "0.60"];
const spectraB = [hd2628, hd2665, hd221345, hd184786];

const wlMin = 3545;
const wlMax = 7400;
const majorTicks = [4000, 5000, 6000, 7000];

// -------------------- Textplacering (andel av plotytan) --------------------
const layoutA = {
  tag: { text: "(a)", fx: 0.045, fy: 0.027 },
  teff: [[0.118, 0.066], [0.118, 0.362], [0.118, 0.569], [0.118, 0.857]],
  name: [[0.460, 0.351], [0.476, 0.493], [0.397, 0.680], [0.476, 0.964]],
  loggX: 0.772
};
const layoutB = {
  tag: { text: "(b)", fx: 0.042, fy: 0.026 },
  teff: [[0.114, 0.110], [0.114, 0.390], [0.114, 0.569], [0.114, 0.843]],
  name: [[0.495, 0.345], [0.493, 0.502], [0.457, 0.647], [0.453, 0.954]],
  loggX: 0.770
};

const SERIF = '"DejaVu Serif", "Liberation Serif", serif';
const INK = "#1a1a1a";

// -------------------- Ram, streck och texter --------------------
function drawTeff(ctx, x, y, value) {
  ctx.font = "italic 17px " + SERIF;
  ctx.fillText("T", x, y);
  let w = ctx.measureText("T").width;
  ctx.font = "italic 11px " + SERIF;
  ctx.fillText("eff", x + w - 1, y + 6);
  w += ctx.measureText("eff").width - 1;
  ctx.font = "16px " + SERIF;
  ctx.fillText("=" + value + "K", x + w, y);
}

function drawLogg(ctx, x, y, value) {
  ctx.font = "16px " + SERIF;
  ctx.fillText("(log", x, y);
  let w = ctx.measureText("(log").width;
  ctx.font = "italic 16px " + SERIF;
  ctx.fillText("g", x + w, y);
  w += ctx.measureText("g").width;
  ctx.font = "16px " + SERIF;
  ctx.fillText("=" + value + ")", x + w, y);
}

const panelDecor = {
  id: "panelDecor",
  afterDatasetsDraw(chart, args, opts) {
    const { ctx, chartArea: a, scales: { x } } = chart;
    const W = a.right - a.left;
    const H = a.bottom - a.top;
    ctx.save();

    // ramen runt plotytan
    ctx.strokeStyle = "#777";
    ctx.lineWidth = 2;
    ctx.strokeRect(a.left, a.top, W, H);

    // inåtriktade streck uppe och nere
    ctx.lineWidth = 1.5;
    x.ticks.forEach(t => {
      const px = x.getPixelForValue(t.value);
      const len = majorTicks.includes(t.value) ? 12 : 6;
      ctx.beginPath();
      ctx.moveTo(px, a.bottom);
      ctx.lineTo(px, a.bottom - len);
      ctx.moveTo(px, a.top);
      ctx.lineTo(px, a.top + len);
      ctx.stroke();
    });

    // texter
    const L = opts.layout;
    ctx.fillStyle = INK;
    ctx.textBaseline = "middle";
    ctx.textAlign = "left";
    ctx.font = "24px " + SERIF;
    ctx.fillText(L.tag.text, a.left + L.tag.fx * W, a.top + L.tag.fy * H);

    opts.stars.forEach((name, i) => {
      const [tx, ty] = L.teff[i];
      drawTeff(ctx, a.left + tx * W, a.top + ty * H, opts.teff[i]);
      const [nx, ny] = L.name[i];
      ctx.font = "16px " + SERIF;
      ctx.fillText(name, a.left + nx * W, a.top + ny * H);
      drawLogg(ctx, a.left + L.loggX * W, a.top + ny * H, opts.logg[i]);
    });

    ctx.restore();
  }
};

// -------------------- Bygg en panel --------------------
function makePanel(canvasId, spectra, stars, teff, logg, layout, yAxisWidth, padRight, showYTitle) {
  const ctx = document.getElementById(canvasId).getContext("2d");
  return new Chart(ctx, {
    type: "line",
    data: {
      datasets: spectra.map((s, i) => ({
        label: stars[i],
        data: s.map(([w, f]) => ({ x: w, y: f })),
        borderColor: "#0d0d0d",
        borderWidth: 2.3,
        borderJoinStyle: "round",
        pointRadius: 0,
        tension: 0,
        fill: false
      }))
    },
    options: {
      responsive: false,
      animation: false,
      devicePixelRatio: 1,
      layout: { padding: { left: 0, right: padRight, top: 22, bottom: 0 } },
      plugins: {
        legend: { display: false },
        tooltip: { enabled: false },
        panelDecor: { stars, teff, logg, layout }
      },
      scales: {
        x: {
          type: "linear",
          min: wlMin,
          max: wlMax,
          grid: { display: false, drawTicks: false },
          border: { display: false },
          ticks: {
            stepSize: 200,
            includeBounds: false,
            autoSkip: false,
            maxRotation: 0,
            padding: 9,
            color: INK,
            font: { family: SERIF, size: 23 },
            callback: v => (majorTicks.includes(v) ? String(v) : "")
          },
          title: {
            display: true,
            text: "wavelength (\u00C5)",
            color: INK,
            font: { family: SERIF, size: 23 },
            padding: { top: 0, bottom: 12 }
          },
          afterFit: scale => { scale.height = 96; }
        },
        y: {
          min: 0,
          max: 100,
          grid: { display: false, drawTicks: false },
          border: { display: false },
          ticks: { display: false },
          title: {
            display: showYTitle,
            text: "relative flux",
            color: INK,
            font: { family: SERIF, size: 25 },
            padding: { top: 23, bottom: 0 }
          },
          afterFit: scale => { scale.width = yAxisWidth; }
        }
      }
    },
    plugins: [panelDecor]
  });
}

window.onload = () => {
  makePanel("panelA", spectraA, starsA, teffA, loggA, layoutA, 68, 10, true);
  makePanel("panelB", spectraB, starsB, teffB, loggB, layoutB, 10, 65, false);
};
</script>
</body>
</html>
